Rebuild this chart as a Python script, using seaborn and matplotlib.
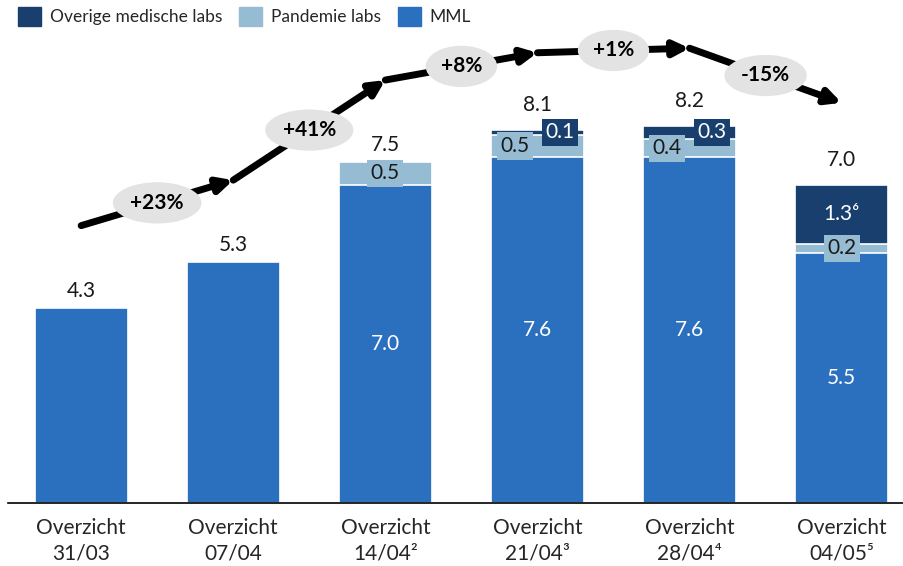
import numpy as np
import pandas as pd
import matplotlib
matplotlib.use("Agg")
import matplotlib.pyplot as plt
from matplotlib.patches import Patch
import seaborn as sns

# data
categories = ["Overzicht\n31/03", "Overzicht\n07/04", "Overzicht\n14/04\u00b2",
              "Overzicht\n21/04\u00b3", "Overzicht\n28/04\u2074", "Overzicht\n04/05\u2075"]
mml = [4.3, 5.3, 7.0, 7.6, 7.6, 5.5]
pandemie = [0.0, 0.0, 0.5, 0.5, 0.4, 0.2]
overige = [0.0, 0.0, 0.0, 0.1, 0.3, 1.3]
totals = [4.3, 5.3, 7.5, 8.1, 8.2, 7.0]
overige_notes = ["", "", "", "", "", "\u2076"]
growth = ["+23%", "+41%", "+8%", "+1%", "-15%"]

C_MML = "#2A70BE"
C_PAN = "#96BCD3"
C_OV = "#183F6D"

sns.set_theme(style="white")
plt.rcParams["font.family"] = ["Lato", "DejaVu Sans"]

df = pd.DataFrame({"cat": categories, "mml": mml, "pan": pandemie, "ov": overige})
df["top_pan"] = df["mml"] + df["pan"]
df["top_ov"] = df["top_pan"] + df["ov"]

fig = plt.figure(figsize=(9.04, 5.66), dpi=100)
ax = fig.add_axes([0.009, 0.111, 0.991, 0.836])

bar_kw = dict(width=0.61, edgecolor="white", linewidth=1.2, ax=ax, order=categories)
sns.barplot(data=df, x="cat", y="top_ov", color=C_OV, saturation=1, **bar_kw)
sns.barplot(data=df, x="cat", y="top_pan", color=C_PAN, saturation=1, **bar_kw)
sns.barplot(data=df, x="cat", y="mml", color=C_MML, saturation=1, **bar_kw)

ax.set_xlim(-0.48, 5.41)
ax.set_ylim(0, 10.4)
ax.set_xlabel("")
ax.set_ylabel("")
ax.set_yticks([])
ax.tick_params(axis="x", length=0, labelsize=15, pad=11)
for lbl in ax.get_xticklabels():
    lbl.set_linespacing(1.3)
for s in ["top", "left", "right"]:
    ax.spines[s].set_visible(False)
ax.spines["bottom"].set_color("black")
ax.spines["bottom"].set_linewidth(1.2)

fs = 15
for i, row in df.iterrows():
    # MML value inside the bar (only for stacked bars)
    if row["pan"] > 0 or row["ov"] > 0:
        ax.text(i, row["mml"] / 2, f"{row['mml']:.1f}", ha="center", va="center",
                color="white", fontsize=fs)
    both_small = row["pan"] > 0 and 0 < row["ov"] < 1
    dx = 0.15 if both_small else 0
    if row["pan"] > 0:
        ax.text(i - dx, row["mml"] + row["pan"] / 2, f"{row['pan']:.1f}", ha="center",
                va="center", color="#1a1a1a", fontsize=fs, zorder=5,
                bbox=dict(boxstyle="square,pad=0.17", fc=C_PAN, ec="none"))
    if row["ov"] > 0:
        ax.text(i + dx, row["top_pan"] + row["ov"] / 2, f"{row['ov']:.1f}" + overige_notes[i],
                ha="center", va="center", color="white", fontsize=fs, zorder=5,
                bbox=dict(boxstyle="square,pad=0.17", fc=C_OV, ec="none"))
    extra = 0.18 if row["ov"] > 0 else 0
    ax.text(i, row["top_ov"] + 0.15 + extra, f"{totals[i]:.1f}", ha="center",
            va="bottom", color="#1a1a1a", fontsize=fs)

# growth arrow running above the bars
arrow_y = [t + 1.8 for t in totals]
for i in range(len(growth)):
    ax.annotate("", xy=(i + 1, arrow_y[i + 1]), xytext=(i, arrow_y[i]),
                arrowprops=dict(arrowstyle="-|>", color="black", lw=5,
                                mutation_scale=22, shrinkA=0, shrinkB=0),
                zorder=6, annotation_clip=False)
    ax.text(i + 0.5, (arrow_y[i] + arrow_y[i + 1]) / 2, growth[i], ha="center",
            va="center", fontsize=15, fontweight="bold", color="black", zorder=7,
            bbox=dict(boxstyle="ellipse,pad=0.22", fc="#E3E3E3", ec="none"))

handles = [Patch(color=C_OV, label="Overige medische labs"),
           Patch(color=C_PAN, label="Pandemie labs"),
           Patch(color=C_MML, label="MML")]
fig.legend(handles=handles, loc="upper left", bbox_to_anchor=(0.003, 1.015), ncol=3,
           frameon=False, fontsize=12.5, handlelength=1.3, handleheight=1.3,
           handletextpad=0.5, columnspacing=1.0)

fig.savefig("out.png", dpi=100)
